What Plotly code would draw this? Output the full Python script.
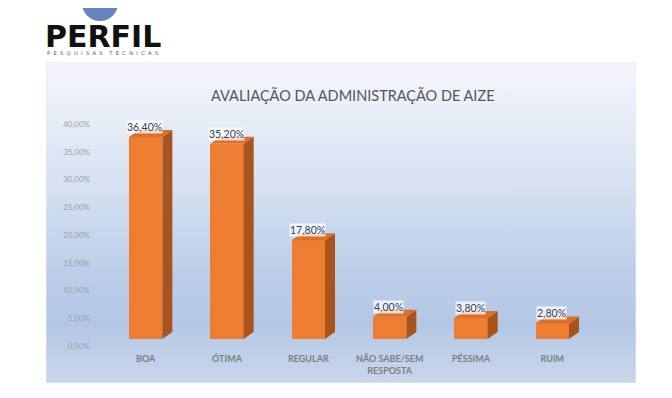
import plotly.graph_objects as go

categories = ["BOA", "ÓTIMA", "REGULAR", "NÃO SABE/SEM<br>RESPOSTA", "PÉSSIMA", "RUIM"]
values = [36.4, 35.2, 17.8, 4.0, 3.8, 2.8]
value_labels = ["36,40%", "35,20%", "17,80%", "4,00%", "3,80%", "2,80%"]
y_ticks = [0, 5, 10, 15, 20, 25, 30, 35, 40]
y_tick_labels = ["0,00%", "5,00%", "10,00%", "15,00%", "20,00%", "25,00%", "30,00%", "35,00%", "40,00%"]
title_text = "AVALIAÇÃO DA ADMINISTRAÇÃO DE AIZE"

# page body has an 8px margin: figure occupies page pixels 8..672 x 8..398
OFF = 8
W, H = 672 - OFF, 398 - OFF
def px(x):
    return (x - OFF) / W
def py(y):
    return 1 - (y - OFF) / H

FRONT = "#ed7d31"
SIDE = "#a9541d"
TOP = "#dd7028"
BAR_W = 0.41
DX = 0.123   # depth offset in category units
DY = 1.26    # depth offset in value units

fig = go.Figure()

# gradient background panel (on its own hidden axes)
fig.add_trace(go.Scatter(
    x=[0, 1, 1, 0, 0], y=[0, 0, 1, 1, 0], mode="lines",
    line=dict(width=1, color="#e4e8ef"), fill="toself",
    fillgradient=dict(type="vertical", colorscale=[
        [0.0, "#c9d7ec"], [0.18, "#b3c7e5"], [0.35, "#bccee9"],
        [0.6, "#d5e0f1"], [0.85, "#e9eef8"], [1.0, "#f4f6fb"]]),
    hoverinfo="skip", showlegend=False, xaxis="x", yaxis="y"))

# front faces
fig.add_trace(go.Bar(
    x=list(range(len(categories))), y=values, width=BAR_W,
    marker=dict(color=FRONT, line=dict(width=0)),
    hoverinfo="skip", showlegend=False, xaxis="x2", yaxis="y2"))

shapes = []
annotations = []
for i, v in enumerate(values):
    l = i - BAR_W / 2
    r = i + BAR_W / 2
    shapes.append(dict(type="path", xref="x2", yref="y2",
        path=f"M {r},0 L {r+DX},{DY} L {r+DX},{v+DY} L {r},{v} Z",
        fillcolor=SIDE, line=dict(width=0), layer="above"))
    shapes.append(dict(type="path", xref="x2", yref="y2",
        path=f"M {l},{v} L {l+DX},{v+DY} L {r+DX},{v+DY} L {r},{v} Z",
        fillcolor=TOP, line=dict(width=0), layer="above"))
    annotations.append(dict(x=i, y=v, xref="x2", yref="y2", text=value_labels[i],
        showarrow=False, yanchor="bottom", yshift=3, xshift=-1,
        font=dict(family="Lato", size=10.5, color="#2f4058"),
        bgcolor="rgba(255,255,255,0.75)", borderpad=0))

# logo
shapes.append(dict(type="circle", xref="paper", yref="paper",
    x0=px(82), x1=px(118), y0=py(21), y1=py(-15),
    fillcolor="#6683c3", line=dict(width=0)))
shapes.append(dict(type="line", xref="paper", yref="paper",
    x0=px(86), x1=px(114), y0=py(2), y1=py(2), line=dict(color="white", width=1)))
annotations.append(dict(x=px(43), y=py(37), xref="paper", yref="paper",
    text="<b>PERFIL</b>",
    showarrow=False, xanchor="left", yanchor="middle",
    font=dict(family="DejaVu Sans", size=30, color="#111111")))
sub = "\u00a0\u00a0".join("PESQUISAS") + "\u00a0\u00a0\u00a0\u00a0" + "\u00a0\u00a0".join("TÉCNICAS")
annotations.append(dict(x=px(45), y=py(53), xref="paper", yref="paper",
    text=sub, showarrow=False, xanchor="left", yanchor="middle",
    font=dict(family="DejaVu Sans", size=5.2, color="#555555")))
# title
annotations.append(dict(x=px(353), y=py(95), xref="paper", yref="paper", text=title_text,
    showarrow=False, xanchor="center", yanchor="middle",
    font=dict(family="Lato", size=14.5, color="#555555")))

fig.update_layout(
    width=W, height=H, margin=dict(l=0, r=0, t=0, b=0, autoexpand=False),
    paper_bgcolor="white", plot_bgcolor="rgba(0,0,0,0)",
    shapes=shapes, annotations=annotations, bargap=0,
    xaxis=dict(domain=[px(46), px(636)], range=[0, 1], visible=False, fixedrange=True,
        automargin=False),
    yaxis=dict(domain=[py(383), py(62)], range=[0, 1], visible=False, fixedrange=True,
        automargin=False),
    xaxis2=dict(domain=[px(105), px(593)], range=[-0.5, len(categories) - 0.5],
        anchor="y2", tickvals=list(range(len(categories))), ticktext=categories,
        showgrid=False, zeroline=False, showline=False, ticks="", automargin=False,
        tickfont=dict(family="Lato", size=9, color="#7f7f7f", weight="bold"),
        ticklabelstandoff=13),
    yaxis2=dict(domain=[py(339), py(117)], range=[0, 40], anchor="x2",
        tickvals=y_ticks, ticktext=y_tick_labels, showgrid=False, zeroline=False,
        showline=False, ticks="", ticklabelshift=7, ticklabelstandoff=14, automargin=False,
        tickfont=dict(family="Lato", size=8, color="#a0a0a0")),
)

fig.write_html("out.html")
